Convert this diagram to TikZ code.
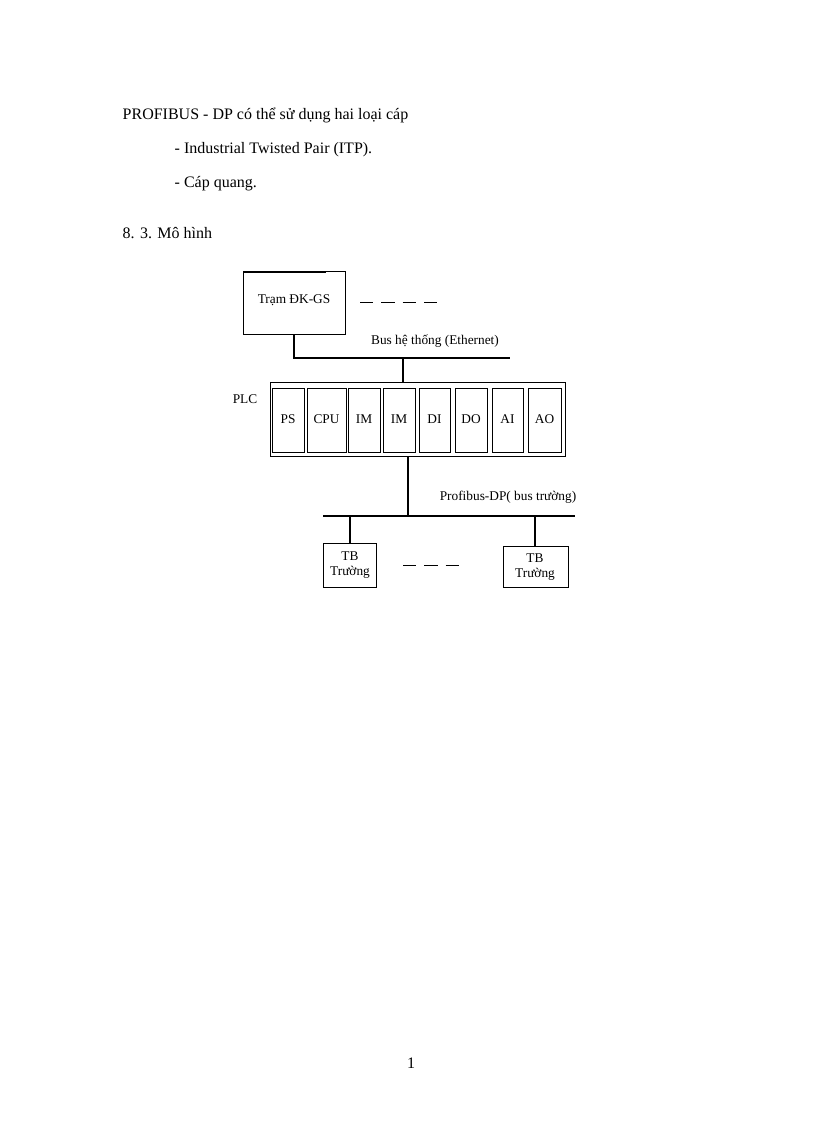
\documentclass[tikz,border=0pt]{standalone}
\usepackage{fontspec}
\setmainfont{Liberation Serif}
\begin{document}
\begin{tikzpicture}[x=0.75pt,y=-0.75pt,
  box/.style={draw,line width=0.6pt,inner sep=0pt,anchor=north west},
  modbox/.style={draw,line width=0.6pt,inner sep=0pt,anchor=north west,font=\fontsize{10}{11}\selectfont},
  bus/.style={line width=2pt},
  lbl/.style={font=\fontsize{10}{11}\selectfont},
  txt/.style={font=\fontsize{12}{14}\selectfont,anchor=west}]
\useasboundingbox (0,0) rectangle (816,1123);
\node[txt] (t1) at (118,115) {PROFIBUS - DP có thể sử dụng hai loại cáp};
\node[txt] (t2) at (170,150) {- Industrial Twisted Pair (ITP).};
\node[txt] (t3) at (170,184) {- Cáp quang.};
\node[txt] (t4) at (118,233) {8. 3. Mô hình};
\node[font=\fontsize{12}{14}\selectfont] (pg) at (411,1063) {1};
% station
\node[box,minimum width=102\pgflinewidth,text width=0pt] (tr) at (243,271) {};
\draw[line width=0.6pt] (243,271) rectangle (345,334);
\coordinate (trb) at (294,334);
\node[lbl] (trl) at (294,300) {Trạm ĐK-GS};
\draw[line width=0.7pt,dash pattern=on 10pt off 6pt] (360,302) -- (437,302);
\coordinate (b1l) at (294,358); \coordinate (b1r) at (510,358);
\draw[bus] (trb) -- (b1l) -- (b1r);
\node[lbl] (b1t) at (435,341) {Bus hệ thống (Ethernet)};
% PLC
\draw[line width=0.6pt] (270,382) rectangle (565,456);
\coordinate (plct) at (403,382); \coordinate (plcb) at (408,456);
\draw[bus] (403,358) -- (plct);
\node[lbl] (plcl) at (245,399) {PLC};
\foreach \a/\b/\t in {272/304/PS,307/346/CPU,348/380/IM,383/415/IM,419/450/DI,455/487/DO,492/523/AI,528/561/AO}{
  \draw[line width=0.6pt] (\a,388) rectangle (\b,452);
  \node[lbl] at ({(\a+\b)/2},419) {\t};
}
% field bus
\coordinate (b2l) at (323,516); \coordinate (b2r) at (575,516); \coordinate (b2m) at (408,516);
\draw[bus] (plcb) -- (b2m);
\draw[bus] (b2l) -- (b2r);
\node[lbl] (b2t) at (508,497) {Profibus-DP( bus trường)};
\draw[line width=0.6pt] (323,543) rectangle (376,587);
\draw[line width=0.6pt] (503,546) rectangle (568,587);
\draw[bus] (350,516) -- (350,543);
\draw[bus] (535,516) -- (535,546);
\node[lbl,align=center] (f1) at (350,565) {TB\\Trường};
\node[lbl,align=center] (f2) at (535,567) {TB\\Trường};
\draw[line width=0.7pt,dash pattern=on 10pt off 6pt] (403,565) -- (462,565);
\end{tikzpicture}
\end{document}
